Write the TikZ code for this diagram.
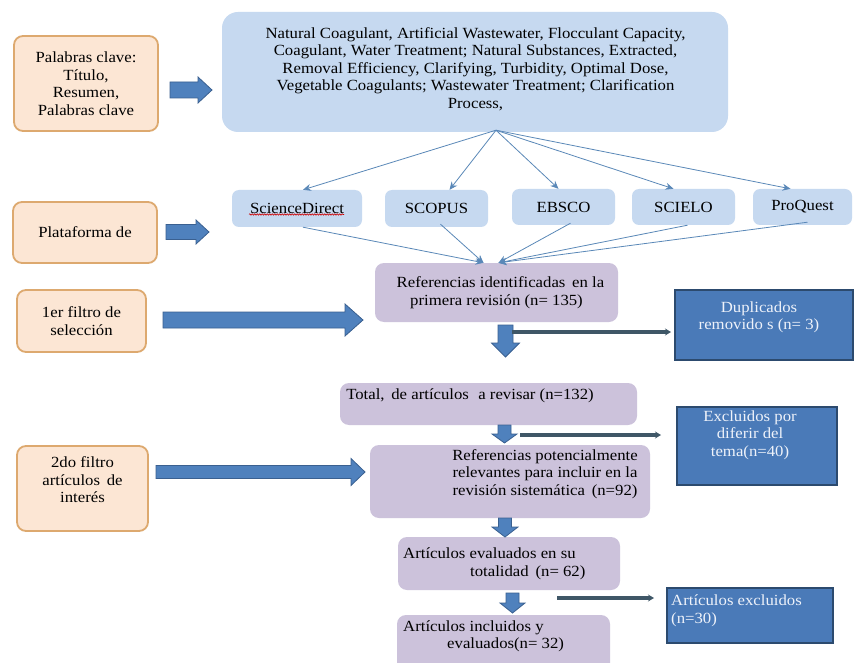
\documentclass[tikz,border=0pt]{standalone}
\usepackage{fontspec}
\setmainfont[FakeStretch=1.08]{Liberation Serif}
\usetikzlibrary{calc,arrows.meta,decorations.pathmorphing}
\definecolor{orfill}{HTML}{FCE6D4}
\definecolor{ordraw}{HTML}{DDA96F}
\definecolor{blfill}{HTML}{C6D9F0}
\definecolor{pufill}{HTML}{CCC2DB}
\definecolor{dkfill}{HTML}{4A7AB8}
\definecolor{dkdraw}{HTML}{2C4A6E}
\definecolor{arfill}{HTML}{4F81BD}
\definecolor{ardraw}{HTML}{3A6090}
\definecolor{thinar}{HTML}{5A88B8}
\definecolor{linear}{HTML}{3F5767}
\definecolor{dktext}{HTML}{EEF2FA}
\tikzset{
  txt/.style={font=\fontsize{15.5}{17.5}\selectfont, inner sep=0pt, align=center},
  orbox/.style={draw=ordraw, line width=1.8pt, fill=orfill, rounded corners=9pt, txt},
  kwbox/.style={fill=blfill, rounded corners=16pt},
  dbbox/.style={fill=blfill, rounded corners=7pt, txt},
  pubox/.style={fill=pufill, rounded corners=9pt, txt},
  dkbox/.style={fill=dkfill, draw=dkdraw, line width=1.2pt},
  dktxt/.style={txt, text=dktext},
  thinarrow/.style={draw=thinar, line width=0.8pt, -{Stealth[length=8pt,width=7pt]}},
  linearrow/.style={draw=linear, line width=3.5pt, -{Stealth[length=6pt,width=7pt]}},
  blockarr/.style={fill=arfill, draw=ardraw, line width=0.8pt},
}
\newcommand\harr[5]{\path[blockarr] let \p1=(#1), \p2=(#2) in
  (\x1,\y1+#3) -- (\x2-#5,\y1+#3) -- (\x2-#5,\y1+#4) -- (\x2,\y1) --
  (\x2-#5,\y1-#4) -- (\x2-#5,\y1-#3) -- (\x1,\y1-#3) -- cycle;}
\newcommand\varr[5]{\path[blockarr] let \p1=(#1), \p2=(#2) in
  (\x1-#3,\y1) -- (\x1-#3,\y2+#5) -- (\x1-#4,\y2+#5) -- (\x1,\y2) --
  (\x1+#4,\y2+#5) -- (\x1+#3,\y2+#5) -- (\x1+#3,\y1) -- cycle;}
\begin{document}
\begin{tikzpicture}[x=1pt,y=-1pt]
\useasboundingbox (0,0) rectangle (854,663);
\clip (0,0) rectangle (854,663);
\fill[white] (0,0) rectangle (854,663);

% left orange boxes
\node[orbox, minimum width=144pt, minimum height=95pt] (o1) at (86,83.5) {Palabras clave:\\Título,\\Resumen,\\Palabras clave};
\node[orbox, minimum width=144pt, minimum height=61pt] (o2) at (85,232.5) {Plataforma de};
\node[orbox, minimum width=129pt, minimum height=62pt] (o3) at (81.5,321) {1er filtro de\\selección};
\node[orbox, minimum width=131pt, minimum height=85pt] (o4) at (82.5,488.5) {};
\node[txt] (o4t) at (82.5,480) {2do filtro\\artículos\, de\\interés};

% keyword box
\node[kwbox, minimum width=506pt, minimum height=120pt] (kw) at (475,72) {};
\node[txt] (kwt) at (475.5,69) {Natural Coagulant, Artificial Wastewater, Flocculant Capacity,\\
Coagulant, Water Treatment; Natural Substances, Extracted,\\
Removal Efficiency, Clarifying, Turbidity, Optimal Dose,\\
Vegetable Coagulants; Wastewater Treatment; Clarification\\
Process,};

% databases
\node[dbbox, minimum width=130pt, minimum height=37pt] (sd) at (297,208.5) {ScienceDirect};
\draw[red!80!black, line width=0.6pt, decorate, decoration={snake, amplitude=0.7pt, segment length=2.5pt}] ($(sd.center)+(-48,6)$) -- ($(sd.center)+(47,6)$);
\node[dbbox, minimum width=103pt, minimum height=37pt] (sc) at (436.5,208.5) {SCOPUS};
\node[dbbox, minimum width=103pt, minimum height=36pt] (eb) at (563.5,207) {EBSCO};
\node[dbbox, minimum width=103pt, minimum height=36pt] (si) at (683.5,207) {SCIELO};
\node[dbbox, minimum width=99pt, minimum height=36pt] (pq) at (802.5,207) {ProQuest};

% purple boxes
\node[pubox, minimum width=243pt, minimum height=59pt] (r1) at (496.5,292.5) {\hspace*{8pt}Referencias identificadas\, en la\\primera revisión (n= 135)};
\node[pubox, minimum width=297pt, minimum height=42pt] (tot) at (488.5,404) {};
\node[txt] (tott) at (470,396) {Total,\, de artículos\,\, a revisar (n=132)};
\node[pubox, minimum width=280pt, minimum height=73pt] (r2) at (510,481.5) {};
\node[txt] (r2t) at (545,474) {Referencias potencialmente\\relevantes para incluir en la\\revisión sistemática\, (n=92)};
\node[pubox, minimum width=222pt, minimum height=53pt] (ev) at (509,563.5) {};
\node[txt, align=left, anchor=west] (evt) at (403,564) {Artículos evaluados en su\\\hspace*{67pt}totalidad\, (n= 62)};
\node[pubox, minimum width=213pt, minimum height=62pt] (inc) at (503.5,646) {};
\node[txt, align=left, anchor=west] (inct) at (403,636.5) {Artículos incluidos y\\\hspace*{44pt}evaluados(n= 32)};

% dark boxes
\node[dkbox, minimum width=178pt, minimum height=70pt] (dup) at (764,325) {};
\node[dktxt] (dupt) at (759,317.5) {Duplicados\\removido s (n= 3)};
\node[dkbox, minimum width=160pt, minimum height=78pt] (ex1) at (757,446) {};
\node[dktxt] (ex1t) at (750,435) {Excluidos por\\diferir del\\tema(n=40)};
\node[dkbox, minimum width=166pt, minimum height=55pt] (ex2) at (750,615.5) {};
\node[dktxt, align=left, anchor=north west] (ex2t) at (671,595) {Artículos excluidos\\(n=30)};

% thin arrows from keyword box
\coordinate (kwo) at ($(kw.south)+(21,-2)$);
\draw[thinarrow] (kwo) -- ($(sd.north)+(6,0)$);
\draw[thinarrow] (kwo) -- ($(sc.north)+(13,0)$);
\draw[thinarrow] (kwo) -- ($(eb.north)+(-5,0)$);
\draw[thinarrow] (kwo) -- ($(si.north)+(-10,0)$);
\draw[thinarrow] (kwo) -- ($(pq.north)+(-12,0)$);

% thin arrows into r1
\coordinate (r1a) at ($(r1.north)+(-13,0)$);
\coordinate (r1b) at ($(r1.north)+(2,0)$);
\draw[thinarrow] ($(sd.south)+(6,0)$) -- (r1a);
\draw[thinarrow] ($(sc.south)+(4,-3)$) -- (r1a);
\draw[thinarrow] ($(eb.south)+(7,-2)$) -- (r1b);
\draw[thinarrow] ($(si.south)+(4,0)$) -- (r1b);
\draw[thinarrow] ($(pq.south)+(5,-3)$) -- (r1b);

% block arrows
\coordinate (a1s) at (170,90);   \coordinate (a1e) at (212,90);
\coordinate (a2s) at (166,232);  \coordinate (a2e) at (209,232);
\coordinate (a3s) at (163,320);  \coordinate (a3e) at (363,320);
\coordinate (a4s) at (156,472);  \coordinate (a4e) at (365,472);
\harr{a1s}{a1e}{8pt}{13pt}{14pt}
\harr{a2s}{a2e}{7.5pt}{12pt}{13pt}
\harr{a3s}{a3e}{8pt}{16pt}{18pt}
\harr{a4s}{a4e}{6.5pt}{13.5pt}{14pt}

\coordinate (v1s) at (505.5,325); \coordinate (v1e) at (505.5,357);
\coordinate (v2s) at (504.5,425); \coordinate (v2e) at (504.5,443);
\coordinate (v3s) at (505,518);   \coordinate (v3e) at (505,537);
\coordinate (v4s) at (512.5,593); \coordinate (v4e) at (512.5,613);
\varr{v1s}{v1e}{7.5pt}{14pt}{14pt}
\varr{v2s}{v2e}{6.5pt}{12.5pt}{9pt}
\varr{v3s}{v3e}{6.5pt}{13pt}{10pt}
\varr{v4s}{v4e}{6.5pt}{12.5pt}{10pt}

% line arrows to excluded boxes
\coordinate (l1s) at (512,332); \coordinate (l1e) at (671,332);
\coordinate (l2s) at (520,435); \coordinate (l2e) at (661,435);
\coordinate (l3s) at (557,598); \coordinate (l3e) at (654,598);
\draw[linearrow] (l1s) -- (l1e);
\draw[linearrow] (l2s) -- (l2e);
\draw[linearrow] (l3s) -- (l3e);
\end{tikzpicture}
\end{document}
